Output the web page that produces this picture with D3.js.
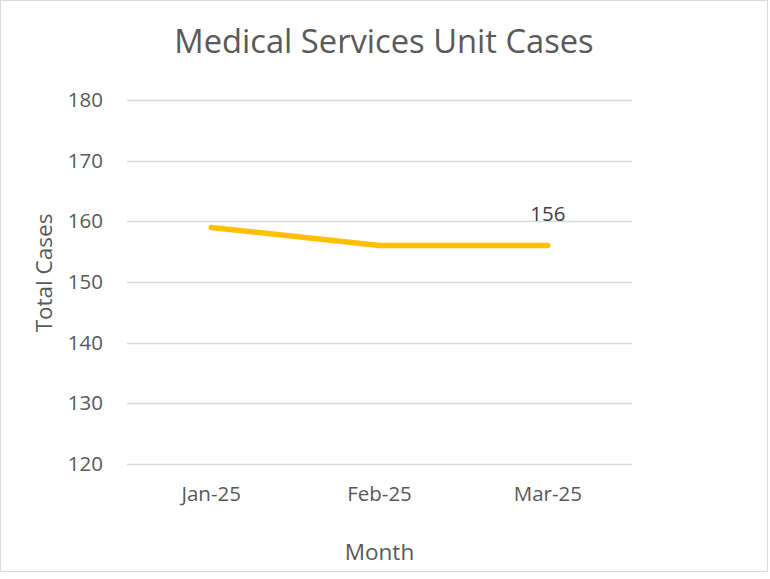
<!DOCTYPE html>
<html>
<head>
<meta charset="utf-8">
<script src="https://cdn.jsdelivr.net/npm/d3@7"></script>
<style>
  html, body { margin: 0; padding: 0; background: #fff; }
  svg { display: block; font-family: "Open Sans", sans-serif; }
</style>
</head>
<body>
<svg id="chart" width="770" height="579"></svg>
<script>
const months = ["Jan-25", "Feb-25", "Mar-25"];
const totalCases = [159, 156, 156];
const yTicks = [120, 130, 140, 150, 160, 170, 180];
const title = "Medical Services Unit Cases";
const xTitle = "Month";
const yTitle = "Total Cases";
const labeledIndex = 2;

const svg = d3.select("#chart");
const W = 770, H = 579;
const plot = { left: 127, right: 632, top: 100, bottom: 464 };

svg.append("rect")
  .attr("x", 0.5).attr("y", 0.5)
  .attr("width", 767).attr("height", 571)
  .attr("fill", "#fff").attr("stroke", "#d9d9d9").attr("stroke-width", 1);

const x = d3.scaleBand().domain(months).range([plot.left, plot.right]);
const y = d3.scaleLinear().domain([120, 180]).range([plot.bottom, plot.top]);

// gridlines
svg.append("g").selectAll("line").data(yTicks).join("line")
  .attr("x1", plot.left).attr("x2", plot.right)
  .attr("y1", d => Math.round(y(d)) + 0.5).attr("y2", d => Math.round(y(d)) + 0.5)
  .attr("stroke", "#d9d9d9").attr("stroke-width", 1.3);

// y axis
const yAxis = svg.append("g")
  .attr("transform", `translate(${plot.left - 24},0)`)
  .call(d3.axisLeft(y).tickValues(yTicks).tickSize(0).tickPadding(0));
yAxis.select(".domain").remove();
yAxis.selectAll("text")
  .attr("fill", "#595959").style("font-size", "20.5px")
  .style("font-family", "'Open Sans', sans-serif");

// x axis
const xAxis = svg.append("g")
  .attr("transform", `translate(0,${plot.bottom})`)
  .call(d3.axisBottom(x).tickSize(0).tickPadding(0));
xAxis.select(".domain").remove();
xAxis.selectAll("text")
  .attr("dy", null).attr("y", 37)
  .attr("fill", "#595959").style("font-size", "20.5px")
  .style("font-family", "'Open Sans', sans-serif");

// line
const line = d3.line()
  .x((d, i) => x(months[i]) + x.bandwidth() / 2)
  .y(d => y(d));
svg.append("path")
  .datum(totalCases)
  .attr("d", line)
  .attr("fill", "none")
  .attr("stroke", "#FFC000")
  .attr("stroke-width", 5.5)
  .attr("stroke-linecap", "round")
  .attr("stroke-linejoin", "round");

// data label
svg.append("text")
  .attr("x", x(months[labeledIndex]) + x.bandwidth() / 2)
  .attr("y", y(totalCases[labeledIndex]) - 25)
  .attr("text-anchor", "middle")
  .attr("fill", "#404040").style("font-size", "20.5px")
  .text(totalCases[labeledIndex]);

// title
svg.append("text")
  .attr("x", 384).attr("y", 53)
  .attr("text-anchor", "middle")
  .attr("fill", "#595959").style("font-size", "32.7px")
  .text(title);

// axis titles
svg.append("text")
  .attr("x", (plot.left + plot.right) / 2).attr("y", 560)
  .attr("text-anchor", "middle")
  .attr("fill", "#595959").style("font-size", "22.5px")
  .text(xTitle);

svg.append("text")
  .attr("transform", "translate(52,273) rotate(-90)")
  .attr("text-anchor", "middle")
  .attr("fill", "#595959").style("font-size", "22.5px")
  .text(yTitle);
</script>
</body>
</html>
